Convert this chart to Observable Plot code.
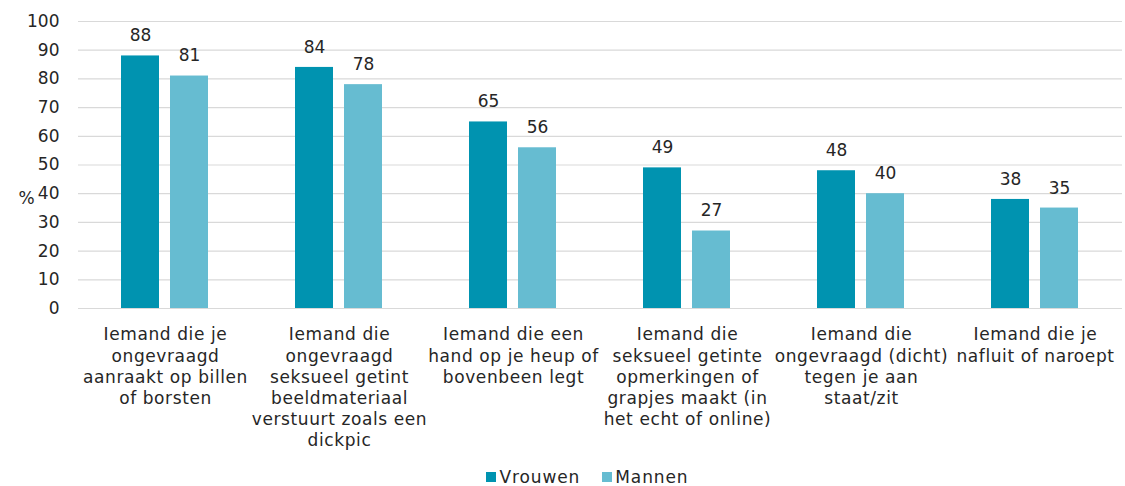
<!DOCTYPE html>
<html>
<head>
<meta charset="utf-8">
<script src="https://cdn.jsdelivr.net/npm/d3@7"></script>
<script src="https://cdn.jsdelivr.net/npm/@observablehq/plot@0.6"></script>
<style>
  html, body { margin: 0; padding: 0; background: #fff; }
  body { width: 1125px; height: 486px; overflow: hidden; font-family: "DejaVu Sans", Verdana, sans-serif; color: #262626; }
  #legend { display: flex; justify-content: center; gap: 22px; font-size: 17px; letter-spacing: 0.9px; margin-top: 9px; padding-left: 50px; }
  #legend span.item { display: inline-flex; align-items: center; gap: 3px; }
  #legend span.sw { width: 10px; height: 10px; display: inline-block; }
  g[aria-label="fx-axis tick label"] text { letter-spacing: 0.6px; }
</style>
</head>
<body>
<div id="chart"></div>
<div id="legend"></div>
<script>
const categories = [
  "Iemand die je\nongevraagd\naanraakt op billen\nof borsten",
  "Iemand die\nongevraagd\nseksueel getint\nbeeldmateriaal\nverstuurt zoals een\ndickpic",
  "Iemand die een\nhand op je heup of\nbovenbeen legt",
  "Iemand die\nseksueel getinte\nopmerkingen of\ngrapjes maakt (in\nhet echt of online)",
  "Iemand die\nongevraagd (dicht)\ntegen je aan\nstaat/zit",
  "Iemand die je\nnafluit of naroept"
];
const series = ["Vrouwen", "Mannen"];
const vrouwen = [88, 84, 65, 49, 48, 38];
const mannen = [81, 78, 56, 27, 40, 35];
const colors = ["#0093B0", "#66BCD1"];
const yTicks = [0, 10, 20, 30, 40, 50, 60, 70, 80, 90, 100];

const data = [];
categories.forEach((c, i) => {
  data.push({category: c, series: "Vrouwen", value: vrouwen[i]});
  data.push({category: c, series: "Mannen", value: mannen[i]});
});

const chart = Plot.plot({
  width: 1125,
  height: 458,
  marginLeft: 76,
  marginRight: 2,
  marginTop: 21,
  marginBottom: 150,
  style: {fontFamily: "'DejaVu Sans', Verdana, sans-serif", fontSize: "17px", color: "#262626", background: "#fff"},
  fx: {domain: categories, padding: 0, label: null},
  x: {domain: series, paddingInner: 0.22, paddingOuter: 0.855, axis: null},
  y: {domain: [0, 100], label: null},
  color: {domain: series, range: colors},
  marks: [
    Plot.gridY(yTicks, {stroke: "#d9d9d9", strokeOpacity: 1, strokeWidth: 1.2}),
    Plot.axisY(yTicks, {tickSize: 0, tickPadding: 19, fontSize: 17, label: null}),
    Plot.axisFx({anchor: "bottom", tickSize: 0, tickPadding: 17, fontSize: 17, lineHeight: 1.24, lineAnchor: "top", label: null}),
    Plot.barY(data, {fx: "category", x: "series", y: "value", fill: "series"}),
    Plot.text(data, {fx: "category", x: "series", y: "value", text: d => String(d.value), dy: -20, fontSize: 17, fill: "#262626"}),
    Plot.text(["%"], {facetAnchor: "left", frameAnchor: "left", dx: -60, dy: 34, fontSize: 17, fill: "#262626"})
  ]
});
document.getElementById("chart").appendChild(chart);

const legend = document.getElementById("legend");
series.forEach((s, i) => {
  const item = document.createElement("span");
  item.className = "item";
  const sw = document.createElement("span");
  sw.className = "sw";
  sw.style.background = colors[i];
  item.appendChild(sw);
  item.appendChild(document.createTextNode(s));
  legend.appendChild(item);
});
</script>
</body>
</html>
